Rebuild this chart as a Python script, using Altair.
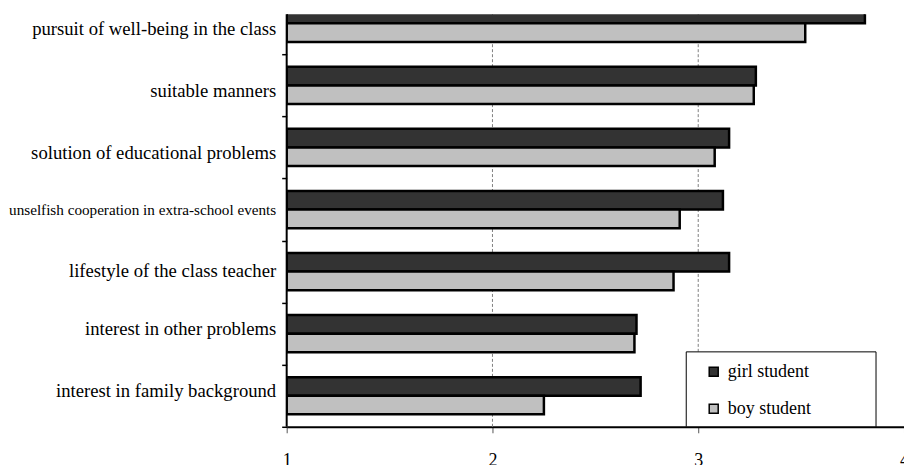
import json

import altair as alt
import pandas as pd

# Mean scores of each class-teacher quality, by pupil group
categories = [
    "pursuit of well-being in the class",
    "suitable manners",
    "solution of educational problems",
    "unselfish cooperation in extra-school events",
    "lifestyle of the class teacher",
    "interest in other problems",
    "interest in family background",
]
girl_scores = [3.81, 3.28, 3.15, 3.12, 3.15, 2.70, 2.72]
boy_scores = [3.52, 3.27, 3.08, 2.91, 2.88, 2.69, 2.25]
series = ["girl student", "boy student"]
series_colors = ["#333333", "#c0c0c0"]
x_ticks = [1, 2, 3, 4]
grid_ticks = [2, 3]

rows = []
for item, g, b in zip(categories, girl_scores, boy_scores):
    rows.append({"item": item, "group": series[0], "score": g})
    rows.append({"item": item, "group": series[1], "score": b})
df = pd.DataFrame(rows)

W, H = 618, 413
SERIF = "Liberation Serif"
x_scale = alt.Scale(domain=[1, 4], nice=False, zero=False)

# per-label vertical nudges and a smaller size for the long label
label_offset = {
    "condition": [
        {"test": f"indexof({json.dumps(categories[:3])}, datum.value) >= 0", "value": 11.5},
        {"test": f"indexof({json.dumps(categories[5:])}, datum.value) >= 0", "value": 0.7},
    ],
    "value": 5,
}
label_size = {
    "condition": {"test": f"datum.value == {json.dumps(categories[3])}", "value": 15.2},
    "value": 18.7,
}

bars = alt.Chart(df).mark_bar(clip=True, stroke="black", strokeWidth=2.5).encode(
    x=alt.X(
        "score:Q",
        title=None,
        scale=x_scale,
        axis=alt.Axis(
            values=x_ticks,
            format="d",
            domainColor="black",
            domainWidth=2,
            tickColor="#555555",
            tickSize=6,
            tickWidth=1,
            labelFont=SERIF,
            labelFontSize=18,
            labelColor="black",
            labelBaseline="alphabetic",
            labelPadding=33,
            labelFlush=False,
            grid=False,
        ),
    ),
    x2=alt.datum(1),
    y=alt.Y(
        "item:N",
        title=None,
        sort=categories,
        scale=alt.Scale(range=[-22, H], paddingInner=0, paddingOuter=0),
        axis=alt.Axis(
            domain=False,
            ticks=True,
            tickBand="extent",
            tickSize=5,
            tickWidth=1.5,
            tickColor="black",
            labelFont=SERIF,
            labelFontSize=label_size,
            labelColor="black",
            labelBaseline="alphabetic",
            labelOffset=label_offset,
            labelPadding=6,
            labelLimit=400,
            grid=False,
        ),
    ),
    yOffset=alt.YOffset(
        "group:N", sort=series, scale=alt.Scale(paddingInner=0, paddingOuter=0.667)
    ),
    color=alt.Color(
        "group:N",
        scale=alt.Scale(domain=series, range=series_colors),
        legend=alt.Legend(
            title=None,
            orient="none",
            legendX=418.5,
            legendY=349,
            padding=0,
            symbolType="square",
            symbolSize=81,
            symbolStrokeColor="black",
            symbolStrokeWidth=1.5,
            symbolOpacity=1,
            labelFont=SERIF,
            labelFontSize=18,
            labelColor="black",
            labelOffset=5,
            rowPadding=19,
        ),
    ),
)

# dashed vertical gridlines
grid = alt.Chart(pd.DataFrame({"tick": grid_ticks})).mark_rule(
    color="#808080", strokeWidth=1, strokeDash=[3, 2]
).encode(x=alt.X("tick:Q", scale=x_scale), y=alt.value(0), y2=alt.value(H))

# left axis line
left_axis = alt.Chart(pd.DataFrame({"k": [0]})).mark_rule(color="black", strokeWidth=2).encode(
    x=alt.value(0), y=alt.value(0), y2=alt.value(H)
)

# legend frame
frame = alt.Chart(pd.DataFrame({"k": [0]})).mark_rect(
    fill="white", stroke="black", strokeWidth=1
).encode(x=alt.value(400), x2=alt.value(590), y=alt.value(338), y2=alt.value(H))

chart = (
    alt.layer(grid, bars, frame, left_axis)
    .properties(
        width=W,
        height=H,
        autosize=alt.AutoSizeParams(type="none"),
        padding={"left": 287, "top": 14, "right": 0, "bottom": 38},
        background="white",
    )
    .configure_view(stroke=None)
)

chart.save("out.html", embed_options={"renderer": "svg", "actions": False})
